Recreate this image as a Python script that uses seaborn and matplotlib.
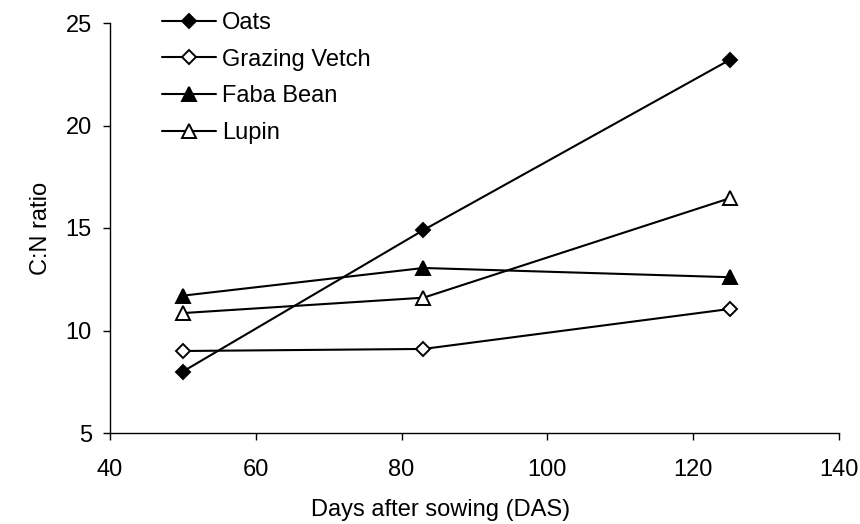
import numpy as np
import pandas as pd
import matplotlib
matplotlib.use('Agg')
import matplotlib.pyplot as plt
import seaborn as sns

# data
days = [50, 83, 125]
oats = [8.0, 14.9, 23.2]
grazing_vetch = [9.0, 9.1, 11.05]
faba_bean = [11.7, 13.05, 12.6]
lupin = [10.85, 11.6, 16.45]

series = ['Oats', 'Grazing Vetch', 'Faba Bean', 'Lupin']
values = [oats, grazing_vetch, faba_bean, lupin]

sns.set_style('ticks', {'text.color': 'black', 'axes.labelcolor': 'black',
                        'xtick.color': 'black', 'ytick.color': 'black',
                        'axes.edgecolor': 'black'})
plt.rcParams['font.family'] = ['Liberation Sans', 'DejaVu Sans']
fs = 17

fig = plt.figure(figsize=(8.6, 5.24), dpi=100)
# plot area: x 110..839 px, y 23..433 px
ax = fig.add_axes([110/860, 1 - 433/524, 729/860, 410/524])

markers = {'Oats': 'D', 'Grazing Vetch': 'D', 'Faba Bean': '^', 'Lupin': '^'}
faces = {'Oats': 'black', 'Grazing Vetch': 'white', 'Faba Bean': 'black', 'Lupin': 'white'}
sizes = {'Oats': 7.5, 'Grazing Vetch': 7.5, 'Faba Bean': 9.5, 'Lupin': 9.5}

for name, vals in zip(series, values):
    df = pd.DataFrame({'DAS': days, 'CN': vals})
    sns.lineplot(data=df, x='DAS', y='CN', ax=ax, color='black', linewidth=1.5,
                 marker=markers[name], markersize=sizes[name],
                 markerfacecolor=faces[name], markeredgecolor='black',
                 markeredgewidth=1.4, label=name)

ax.set_xlim(40, 140)
ax.set_ylim(5, 25)
ax.set_xticks(np.arange(40, 141, 20))
ax.set_yticks(np.arange(5, 26, 5))
ax.tick_params(axis='both', labelsize=fs, length=5, width=1, color='black',
               labelcolor='black')
ax.tick_params(axis='y', pad=8)
ax.tick_params(axis='x', pad=14)
ax.set_xlabel('Days after sowing (DAS)', fontsize=fs, color='black')
ax.set_ylabel('C:N ratio', fontsize=fs, color='black')
ax.xaxis.set_label_coords(0.453, -0.16)
ax.yaxis.set_label_coords(-0.08, 0.5)
sns.despine(ax=ax)
for s in ['left', 'bottom']:
    ax.spines[s].set_color('black')
    ax.spines[s].set_linewidth(1)

ax.legend(loc='upper left', bbox_to_anchor=(162/860, 1 - 12/524),
          bbox_transform=fig.transFigure, frameon=False,
          fontsize=fs, handlelength=2.3, handletextpad=0.25, labelspacing=0.62,
          borderpad=0, borderaxespad=0)

fig.savefig('out.png', dpi=100)
